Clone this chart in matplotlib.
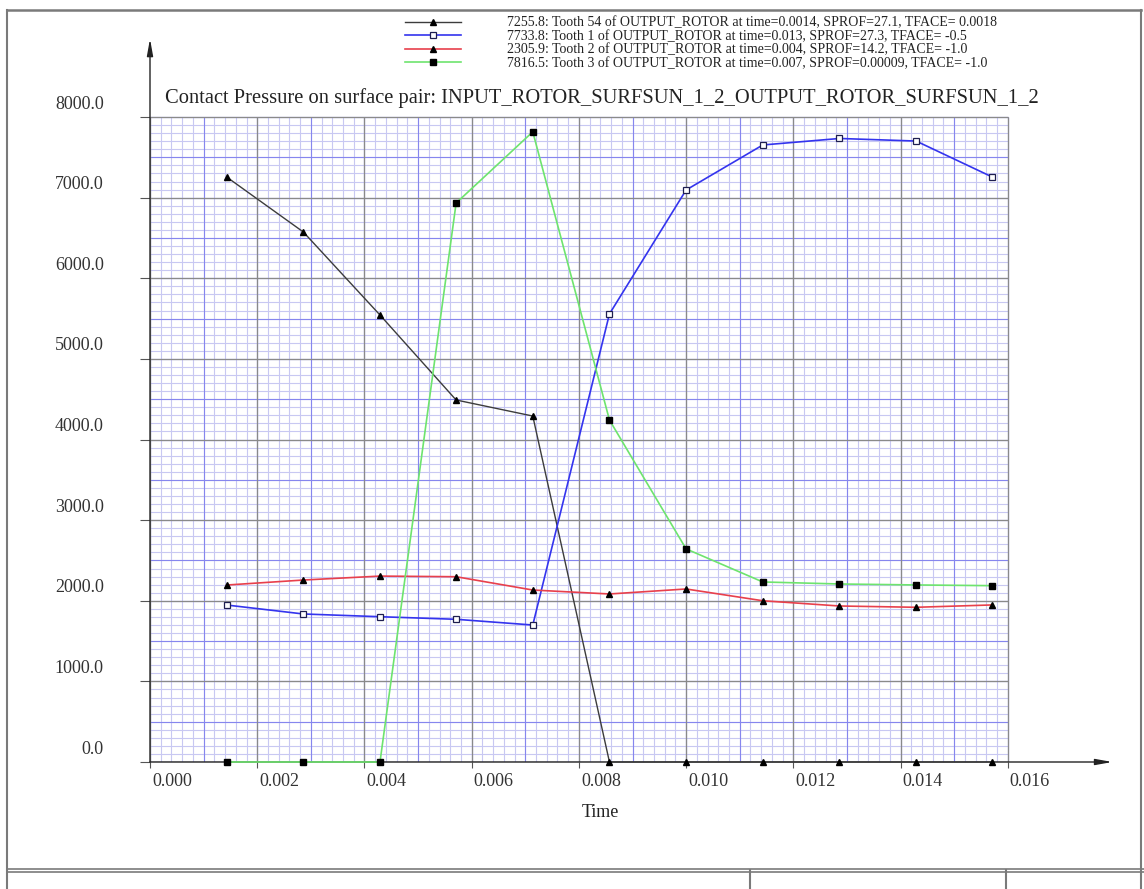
import numpy as np
import matplotlib
matplotlib.use('Agg')
import matplotlib.pyplot as plt
from matplotlib.lines import Line2D
from matplotlib.transforms import ScaledTranslation

# ---------------- data ----------------
times = [0.00143, 0.00286, 0.00429, 0.00571, 0.00714, 0.00857,
         0.01000, 0.01143, 0.01286, 0.01429, 0.01571]
tooth54 = [7255.8, 6574, 5544, 4490, 4291, 0, 0, 0, 0, 0, 0]
tooth1 = [1947, 1836, 1802, 1770, 1699, 5557, 7095, 7653, 7733.8, 7702, 7256]
tooth2 = [2195, 2257, 2305.9, 2298, 2133, 2084, 2146, 2000, 1935, 1919, 1948]
tooth3 = [0, 0, 0, 6933, 7816.5, 4242, 2643, 2233, 2208, 2196, 2187]

legend_labels = [
    "7255.8: Tooth 54 of OUTPUT_ROTOR at time=0.0014, SPROF=27.1, TFACE= 0.0018",
    "7733.8: Tooth 1 of OUTPUT_ROTOR at time=0.013, SPROF=27.3, TFACE= -0.5",
    "2305.9: Tooth 2 of OUTPUT_ROTOR at time=0.004, SPROF=14.2, TFACE= -1.0",
    "7816.5: Tooth 3 of OUTPUT_ROTOR at time=0.007, SPROF=0.00009, TFACE= -1.0",
]
title = "Contact Pressure on surface pair: INPUT_ROTOR_SURFSUN_1_2_OUTPUT_ROTOR_SURFSUN_1_2"
x_label = "Time"
xticks = [0.000, 0.002, 0.004, 0.006, 0.008, 0.010, 0.012, 0.014, 0.016]
xtick_labels = ["0.000", "0.002", "0.004", "0.006", "0.008", "0.010", "0.012", "0.014", "0.016"]
yticks = [0, 1000, 2000, 3000, 4000, 5000, 6000, 7000, 8000]
ytick_labels = ["0.0", "1000.0", "2000.0", "3000.0", "4000.0", "5000.0", "6000.0", "7000.0", "8000.0"]

# ---------------- figure ----------------
plt.rcParams['font.family'] = ['Liberation Serif', 'DejaVu Serif']
W, H = 1144, 889
fig = plt.figure(figsize=(W / 100, H / 100), dpi=100)
fig.patch.set_facecolor('white')


def fx(px):
    return px / W


def fy(py):
    return 1 - py / H


X0, X1 = 150, 1115
Y0, Y1 = 762, 38
ax = fig.add_axes([fx(X0), fy(Y0), fx(X1) - fx(X0), fy(Y1) - fy(Y0)])
ax.set_xlim(0, 0.018)
ax.set_ylim(0, 8980)
for s in ax.spines.values():
    s.set_visible(False)
ax.patch.set_alpha(0)

XMAX, YMAX = 0.016, 8000
# grid: minor / medium / major
ax.vlines(np.arange(0, XMAX + 1e-9, 0.0002), 0, YMAX, colors='#c8c8f2', lw=0.8, zorder=1)
ax.hlines(np.arange(0, YMAX + 1, 100), 0, XMAX, colors='#c8c8f2', lw=0.8, zorder=1)
ax.vlines(np.arange(0, XMAX + 1e-9, 0.001), 0, YMAX, colors='#8686ee', lw=0.8, zorder=2)
ax.hlines(np.arange(0, YMAX + 1, 500), 0, XMAX, colors='#8686ee', lw=0.8, zorder=2)
ax.vlines(np.arange(0, XMAX + 1e-9, 0.002), 0, YMAX, colors='#8a8a8a', lw=0.9, zorder=3)
ax.hlines(np.arange(0, YMAX + 1, 1000), 0, XMAX, colors='#8a8a8a', lw=0.9, zorder=3)

# axes arrows
ax.annotate('', xy=(0.01795, 0), xytext=(0, 0), xycoords='data',
            arrowprops=dict(arrowstyle='-|>,head_length=1.0,head_width=0.18',
                            color='#222222', lw=1.0, shrinkA=0, shrinkB=0),
            annotation_clip=False, zorder=6)
ax.annotate('', xy=(0, 8970), xytext=(0, 0), xycoords='data',
            arrowprops=dict(arrowstyle='-|>,head_length=1.0,head_width=0.18',
                            color='#222222', lw=1.0, shrinkA=0, shrinkB=0),
            annotation_clip=False, zorder=6)

# data series
l1, = ax.plot(times, tooth54, color='#3c3c3c', lw=1.0, marker='^', ms=4,
              mfc='black', mec='black', zorder=7, clip_on=False)
l2, = ax.plot(times, tooth1, color='#3434ee', lw=1.2, marker='s', ms=4.5,
              mfc='white', mec='#1e1e50', mew=0.9, zorder=7, clip_on=False)
l3, = ax.plot(times, tooth2, color='#e8404c', lw=1.2, marker='^', ms=4,
              mfc='black', mec='black', zorder=7, clip_on=False)
l4, = ax.plot(times, tooth3, color='#6ee46e', lw=1.2, marker='s', ms=5,
              mfc='black', mec='black', zorder=7, clip_on=False)

# ticks
ax.set_xticks(xticks, xtick_labels)
ax.set_yticks(yticks, ytick_labels)
ax.tick_params(axis='x', length=4.5, width=0.8, color='#555555', pad=3.5,
               labelsize=13, labelcolor='#333333')
ax.tick_params(axis='y', length=7.2, width=0.8, color='#555555', pad=26,
               labelsize=13, labelcolor='#333333')
for lab in ax.get_xticklabels():
    lab.set_horizontalalignment('left')
    lab.set_transform(lab.get_transform() + ScaledTranslation(0.02, 0, fig.dpi_scale_trans))
for lab in ax.get_yticklabels():
    lab.set_transform(lab.get_transform() + ScaledTranslation(0, 0.15, fig.dpi_scale_trans))

ax.set_xlabel(x_label, fontsize=13, color='#222222')
ax.xaxis.set_label_coords((600 - X0) / (X1 - X0), (Y0 - 804) / (Y0 - Y1))

t = ax.text((165 - X0) / (X1 - X0), (Y0 - 98) / (Y0 - Y1), title,
            transform=ax.transAxes, ha='left', va='center', fontsize=13.5,
            color='#222222')

fig.canvas.draw()
r = fig.canvas.get_renderer()
w = t.get_window_extent(r).width
t.set_fontsize(t.get_fontsize() * 875 / w)

# ---------------- legend ----------------
LEG_X, ROW1, PITCH = 405, 23.0, 13.5


def make_leg(fs, ls, top):
    fpx = fs * 100 / 72
    return fig.legend([l1, l2, l3, l4], legend_labels, loc='upper left',
                      bbox_to_anchor=(fx(LEG_X), fy(top)), frameon=False,
                      fontsize=fs, handlelength=56 / fpx, handletextpad=46 / fpx,
                      labelspacing=ls, borderpad=0, borderaxespad=0,
                      numpoints=1, labelcolor='#222222')


leg = make_leg(10, 0, 10)
fig.canvas.draw()
w = leg.get_texts()[0].get_window_extent(r).width
fs = 10 * 492 / w
leg.remove()
leg = make_leg(fs, 0, 10)
fig.canvas.draw()
ys = [tt.get_window_extent(r) for tt in leg.get_texts()]
pitch = ((ys[0].y0 + ys[0].y1) - (ys[3].y0 + ys[3].y1)) / 6
ls = (PITCH - pitch) / (fs * 100 / 72)
leg.remove()
leg = make_leg(fs, ls, 10)
fig.canvas.draw()
b = leg.get_texts()[0].get_window_extent(r)
cur = H - (b.y0 + b.y1) / 2
leg.remove()
leg = make_leg(fs, ls, 10 + (ROW1 - cur))

# outer frame
fcol = '#7a7a7a'
fig.add_artist(Line2D([fx(7), fx(7)], [fy(10), fy(889)], color=fcol, lw=1.5))
fig.add_artist(Line2D([fx(7), fx(1141)], [fy(10), fy(10)], color=fcol, lw=1.8))
fig.add_artist(Line2D([fx(1141), fx(1141)], [fy(10), fy(889)], color=fcol, lw=1.5))
fig.add_artist(Line2D([fx(7), fx(1144)], [fy(869), fy(869)], color=fcol, lw=1.2))
fig.add_artist(Line2D([fx(7), fx(1144)], [fy(872), fy(872)], color=fcol, lw=1.2))
fig.add_artist(Line2D([fx(750), fx(750)], [fy(870), fy(889)], color=fcol, lw=1.5))
fig.add_artist(Line2D([fx(1006), fx(1006)], [fy(870), fy(889)], color=fcol, lw=1.5))

fig.savefig('out.png', dpi=100, facecolor='white')
